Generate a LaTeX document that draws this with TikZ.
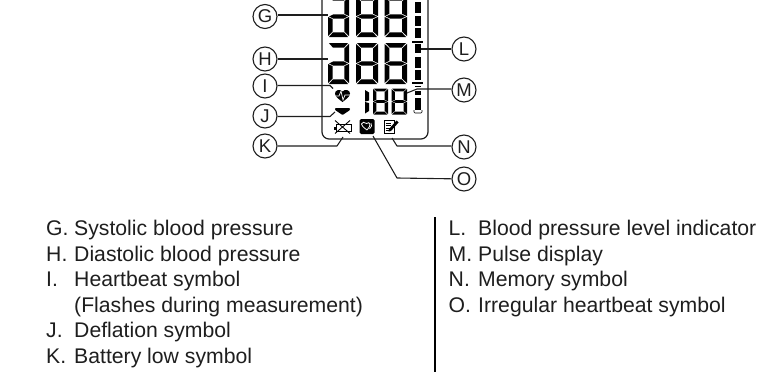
\documentclass[tikz,border=0pt]{standalone}
\usepackage{fontspec}
\setmainfont{Liberation Sans}
\definecolor{ink}{HTML}{1E1E1E}
\tikzset{
  callout/.style={circle,draw=ink,line width=1.1pt,fill=white,minimum size=24pt,inner sep=0pt,font=\fontsize{18.5}{18.5}\selectfont,text=ink},
  leader/.style={draw=ink,line width=1.1pt,line join=round},
  legend/.style={anchor=base west,inner sep=0pt,text=ink,font=\fontsize{21.2}{21.2}\selectfont},
  frameline/.style={draw=ink,line width=1.2pt},
}
\def\sega{(.04,0)--(.96,0)--(.76,.115)--(.24,.115)--cycle}
\def\segg{(.04,1)--(.96,1)--(.76,.885)--(.24,.885)--cycle}
\def\segf{(0,.02)--(.22,.135)--(.22,.435)--(0,.49)--cycle}
\def\segb{(1,.02)--(.78,.135)--(.78,.435)--(1,.49)--cycle}
\def\sege{(0,.51)--(.22,.565)--(.22,.865)--(0,.98)--cycle}
\def\segc{(1,.51)--(.78,.565)--(.78,.865)--(1,.98)--cycle}
\def\segd{(.05,.5)--(.25,.45)--(.75,.45)--(.95,.5)--(.75,.55)--(.25,.55)--cycle}
\newcommand\FullDigit[4]{\begin{scope}[shift={(#1,#2)},xscale=#3,yscale=#4]
  \fill[black] \sega; \fill[black] \segb; \fill[black] \segc; \fill[black] \segd; \fill[black] \sege; \fill[black] \segf; \fill[black] \segg;
\end{scope}}
\newcommand\LetterD[4]{\begin{scope}[shift={(#1,#2)},xscale=#3,yscale=#4]
  \fill[black] \sega; \fill[black] \segb; \fill[black] \segc; \fill[black] \segd; \fill[black] \sege; \fill[black] \segg;
\end{scope}}
\begin{document}
\begin{tikzpicture}[x=1pt,y=-1pt]
\useasboundingbox (0,0) rectangle (761,372);
\clip (0,0) rectangle (761,372);
% LCD frame
\draw[frameline,rounded corners=7pt] (322,-5) -- (322,139) -- (428,139) -- (428,-5);
% digit rows
\foreach \yy in {-4,43}{
  \LetterD{328}{\yy}{21}{41}
  \FullDigit{356}{\yy}{22}{41}
  \FullDigit{384.5}{\yy}{22.5}{41}
}
% level bars
\foreach \ya/\yb in {2/13,16/26,28/38,44/53,57/68,70/80,97.5/110}{
  \fill[black] (414.5,\ya) rectangle (421,\yb);
}
\foreach \yy in {42,83}{\fill[black] (412,\yy-.7) rectangle (423,\yy+.7);}
\fill[black] (415,86) rectangle (421,87.2);
\fill[black] (415,91) rectangle (421,95);
\draw[black,line width=.7pt,rounded corners=1pt] (414,110) -- (414,113) -- (422,113) -- (422,110);
% pulse digits
\fill[black] (365,90)--(369,92.5)--(369,100.5)--(365,101.5)--cycle;
\fill[black] (365,102)--(369,103)--(369,111)--(365,113.5)--cycle;
\FullDigit{373}{88.5}{15}{26}
\FullDigit{391.5}{88.5}{15.5}{26}
% heart
\fill[black] (342.5,102) .. controls (338,98.5) and (335,96.5) .. (335,93.5)
  .. controls (335,90) and (340,88.5) .. (342.5,91.5)
  .. controls (345,88.5) and (350,90) .. (350,93.5)
  .. controls (350,96.5) and (347,98.5) .. (342.5,102) -- cycle;
\draw[white,line width=.7pt] (335,96) -- (339,96) -- (341,91) -- (343,100) -- (345,95) -- (350,95);
% deflation
\fill[black,rounded corners=.8pt] (335,108) -- (350,108) -- (350,110) -- (342.5,115) -- (335,110) -- cycle;
% battery
\draw[black,line width=.8pt] (336,124.5) rectangle (351,131.5);
\fill[black] (333.5,126.5) rectangle (336,129.5);
\draw[black,line width=.9pt] (335,120.5) -- (350,133.5);
\draw[black,line width=.9pt] (350,120.5) -- (335,133.5);
% irregular heartbeat
\fill[black,rounded corners=1.5pt] (359.5,119) rectangle (374.5,134);
\draw[white,line width=.8pt] (367,130) .. controls (363,127) and (361.5,125.5) .. (361.5,124)
  .. controls (361.5,122) and (365,121.5) .. (366.5,123.5)
  .. controls (368,122) and (370,122.5) .. (370,124.5) .. controls (370,126) and (369,128) .. (367,130);
\draw[white,line width=.7pt] (371,123) .. controls (372.5,125) and (371.5,127) .. (369.5,129);
% memory note
\draw[black,line width=.9pt] (384,120) rectangle (394,133);
\foreach \yy in {123,125.5,128,130.5}{\draw[black,line width=.7pt] (385.5,\yy) -- (391,\yy);}
\fill[black] (389,129) -- (396.5,120.5) -- (398.5,122.5) -- (391,131) -- (388.5,131.5) -- cycle;
% callouts
\node[callout] (g) at (265,16.5) {G};
\node[callout] (h) at (265,59) {H};
\node[callout] (i) at (265,86) {I};
\node[callout] (j) at (265,116) {J};
\node[callout] (k) at (265,146) {K};
\node[callout] (l) at (464,49) {L};
\node[callout] (m) at (464,90) {M};
\node[callout] (n) at (464,147) {N};
\node[callout] (o) at (464,179) {O};
\coordinate (gE) at (328,15);
\coordinate (hE) at (328,59);
\coordinate (iE) at (333,88.5);
\coordinate (jE) at (335,112);
\coordinate (kE) at (343,137);
\coordinate (lE) at (421,49);
\coordinate (mE) at (407,93);
\coordinate (nE) at (392,138);
\coordinate (oE) at (373,136);
\draw[leader] (g.east |- gE) -- (gE);
\draw[leader] (h) -- (hE);
\draw[leader] (i.east |- 0,85.5) -- (330,85.5) -- (iE);
\draw[leader] (j.east |- 0,116.5) -- (330,116.5) -- (jE);
\draw[leader] (k) -- (337,146) -- (kE);
\draw[leader] (l) -- (lE);
\draw[leader] (m.west |- 0,89) -- (417,89) -- (mE);
\draw[leader] (n.west |- 0,146) -- (397,146) -- (nE);
\draw[leader] (o) -- (397,178) -- (oE);
% legend
\foreach \lab/\txt/\yy in {G./Systolic blood pressure/235.7,H./Diastolic blood pressure/261.5,I./Heartbeat symbol/286.7,/(Flashes during measurement)/312.7,J./Deflation symbol/337.7,K./Battery low symbol/363.3}{
  \node[legend] at (46,\yy) {\lab};
  \node[legend] at (74,\yy) {\txt};
}
\foreach \lab/\txt/\yy in {L./Blood pressure level indicator/235.7,M./Pulse display/261.5,N./Memory symbol/286.7,O./Irregular heartbeat symbol/312.7}{
  \node[legend] at (448.5,\yy) {\lab};
  \node[legend] at (478,\yy) {\txt};
}
\fill[black] (434.2,217) rectangle (436.2,372);
\end{tikzpicture}
\end{document}
